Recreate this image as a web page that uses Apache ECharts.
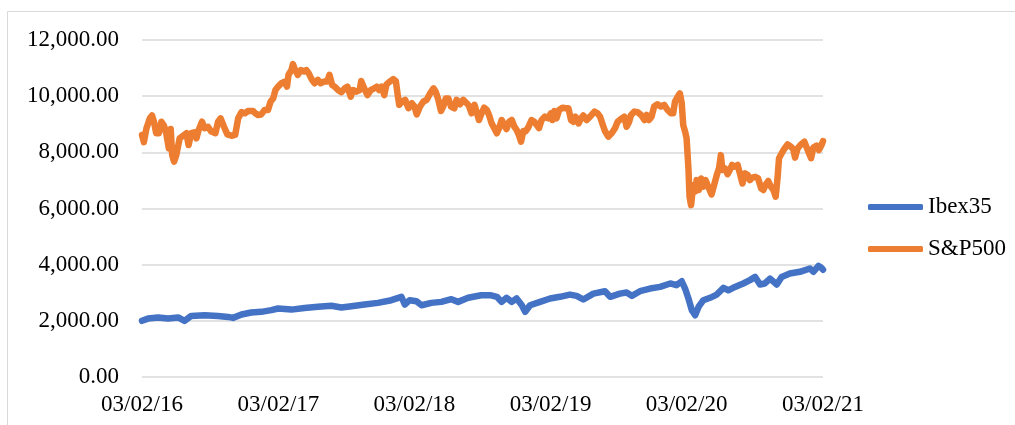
<!DOCTYPE html>
<html>
<head>
<meta charset="utf-8">
<script src="https://cdn.jsdelivr.net/npm/echarts@6/dist/echarts.min.js"></script>
<style>
html,body{margin:0;padding:0;background:#fff;}
#chart{width:1015px;height:425px;}
</style>
</head>
<body>
<div id="chart"></div>
<script>
// ---- DATA ----
const seriesNames = ['Ibex35', 'S&P500'];
const xTickDates = ['2016-02-03','2017-02-03','2018-02-03','2019-02-03','2020-02-03','2021-02-03'];

const ibexDates = [
'2016-02-03','2016-02-19','2016-03-17','2016-04-13','2016-05-10','2016-05-27','2016-06-14','2016-07-20',
'2016-08-25','2016-09-21','2016-10-04','2016-10-27','2016-11-22','2016-12-19','2017-01-15','2017-02-02',
'2017-03-10','2017-04-14','2017-05-20','2017-06-25','2017-07-22','2017-08-18','2017-09-22','2017-10-28',
'2017-12-03','2017-12-30','2018-01-08','2018-01-21','2018-02-08','2018-02-22','2018-03-20','2018-04-16',
'2018-05-13','2018-05-31','2018-06-27','2018-08-01','2018-08-25','2018-09-12','2018-09-25','2018-10-08',
'2018-10-22','2018-11-04','2018-11-18','2018-11-27','2018-12-10','2019-01-06','2019-02-02','2019-02-28',
'2019-03-27','2019-04-14','2019-05-02','2019-05-29','2019-06-29','2019-07-13','2019-08-08','2019-08-26',
'2019-09-09','2019-10-01','2019-10-28','2019-11-24','2019-12-21','2020-01-07','2020-01-21','2020-01-30',
'2020-02-08','2020-02-17','2020-02-26','2020-03-06','2020-03-19','2020-04-06','2020-04-24','2020-05-12',
'2020-05-25','2020-06-07','2020-07-04','2020-07-22','2020-08-05','2020-08-18','2020-08-31','2020-09-14',
'2020-10-02','2020-10-15','2020-11-06','2020-12-03','2020-12-30','2021-01-08','2021-01-22','2021-01-30',
'2021-02-03'
];
const ibexValues = [
2000,2080,2120,2080,2120,2000,2175,2200,
2175,2140,2105,2225,2295,2320,2380,2440,
2400,2460,2500,2535,2475,2520,2580,2640,
2735,2855,2580,2735,2700,2555,2640,2675,
2770,2675,2820,2910,2915,2855,2675,2820,
2675,2795,2555,2320,2555,2675,2795,2855,
2935,2890,2760,2970,3055,2855,2970,3010,
2890,3055,3150,3210,3330,3270,3410,3150,
2795,2380,2200,2495,2735,2820,2935,3175,
3090,3175,3330,3450,3565,3295,3330,3505,
3295,3565,3685,3745,3865,3745,3960,3885,
3820
];

const spDates = [
'2016-02-03','2016-02-08','2016-02-15','2016-02-24','2016-03-01','2016-03-06','2016-03-12','2016-03-19',
'2016-03-26','2016-04-02','2016-04-08','2016-04-15','2016-04-20','2016-04-24','2016-04-29','2016-05-05',
'2016-05-10','2016-05-14','2016-05-23','2016-06-01','2016-06-07','2016-06-14','2016-06-22','2016-06-28',
'2016-07-04','2016-07-13','2016-07-20','2016-07-29','2016-08-07','2016-08-18','2016-08-25','2016-09-01',
'2016-09-10','2016-09-19','2016-09-30','2016-10-10','2016-10-18','2016-10-27','2016-11-05','2016-11-13',
'2016-11-27','2016-12-03','2016-12-10','2016-12-19','2016-12-28','2017-01-06','2017-01-13','2017-01-20',
'2017-01-26','2017-02-02','2017-02-11','2017-02-20','2017-02-26','2017-03-02','2017-03-10','2017-03-14',
'2017-03-20','2017-03-27','2017-04-04','2017-04-13','2017-04-19','2017-04-25','2017-05-04','2017-05-11',
'2017-05-20','2017-05-27','2017-06-05','2017-06-14','2017-06-20','2017-06-27','2017-07-04','2017-07-13',
'2017-07-22','2017-07-31','2017-08-07','2017-08-16','2017-08-22','2017-08-31','2017-09-09','2017-09-13',
'2017-09-21','2017-09-30','2017-10-09','2017-10-18','2017-10-25','2017-10-31','2017-11-07','2017-11-14',
'2017-11-20','2017-11-29','2017-12-08','2017-12-15','2017-12-20','2017-12-24','2018-01-01','2018-01-09',
'2018-01-18','2018-01-27','2018-02-03','2018-02-09','2018-02-18','2018-02-27','2018-03-08','2018-03-17',
'2018-03-26','2018-04-01','2018-04-08','2018-04-15','2018-04-21','2018-04-28','2018-05-05','2018-05-12',
'2018-05-21','2018-05-27','2018-06-05','2018-06-14','2018-06-23','2018-06-29','2018-07-06','2018-07-14',
'2018-07-20','2018-07-26','2018-08-02','2018-08-09','2018-08-16','2018-08-22','2018-08-29','2018-09-05',
'2018-09-12','2018-09-18','2018-09-25','2018-10-02','2018-10-08','2018-10-15','2018-10-22','2018-10-29',
'2018-11-04','2018-11-10','2018-11-16','2018-11-22','2018-11-28','2018-12-05','2018-12-14','2018-12-22',
'2018-12-28','2019-01-03','2019-01-10','2019-01-19','2019-01-28','2019-02-04','2019-02-08','2019-02-13',
'2019-02-19','2019-02-26','2019-03-07','2019-03-16','2019-03-23','2019-03-30','2019-04-05','2019-04-11',
'2019-04-19','2019-04-26','2019-05-02','2019-05-11','2019-05-20','2019-06-01','2019-06-09','2019-06-16',
'2019-06-22','2019-06-29','2019-07-08','2019-07-17','2019-07-26','2019-08-02','2019-08-11','2019-08-20',
'2019-08-26','2019-09-02','2019-09-07','2019-09-16','2019-09-25','2019-10-04','2019-10-13','2019-10-19',
'2019-10-25','2019-11-01','2019-11-08','2019-11-17','2019-11-26','2019-12-05','2019-12-14','2019-12-23',
'2019-12-29','2020-01-03','2020-01-10','2020-01-16','2020-01-21','2020-01-25','2020-01-30','2020-02-03',
'2020-02-08','2020-02-11','2020-02-15','2020-02-18','2020-02-22','2020-02-26','2020-03-01','2020-03-07',
'2020-03-13','2020-03-19','2020-03-25','2020-04-01','2020-04-10','2020-04-17','2020-04-24','2020-04-30',
'2020-05-05','2020-05-09','2020-05-16','2020-05-23','2020-05-29','2020-06-04','2020-06-11','2020-06-19',
'2020-06-25','2020-07-02','2020-07-09','2020-07-16','2020-07-22','2020-07-28','2020-08-05','2020-08-13',
'2020-08-21','2020-08-27','2020-09-02','2020-09-09','2020-09-16','2020-09-23','2020-09-29','2020-10-04',
'2020-10-08','2020-10-15','2020-10-22','2020-10-31','2020-11-09','2020-11-15','2020-11-20','2020-11-27',
'2020-12-06','2020-12-15','2020-12-24','2021-01-02','2021-01-08','2021-01-17','2021-01-23','2021-01-30',
'2021-02-03'
];
const spValues = [
8620,8360,8860,9210,9310,9090,8680,8680,
9090,8950,8680,8140,8830,7900,7670,7900,
7960,8500,8590,8680,8260,8680,8710,8500,
8800,9090,8860,8910,8740,8680,9090,9210,
8910,8640,8590,8620,9210,9430,9390,9470,
9470,9390,9330,9350,9510,9510,9810,9920,
10220,10340,10460,10520,10340,10760,10930,11140,
10930,10760,10930,10880,10930,10820,10580,10460,
10580,10460,10520,10520,10760,10400,10340,10220,
10140,10280,10340,9980,10220,10160,10220,10540,
10280,10040,10220,10280,10340,10220,10340,10040,
10420,10520,10610,10540,10040,9690,9810,9870,
9570,9750,9630,9350,9630,9810,9870,10100,
10280,10160,9870,9470,9630,9920,9920,9630,
9570,9870,9710,9870,9750,9660,9390,9690,
9430,9150,9390,9590,9510,9330,9030,8860,
8680,8860,9150,8970,8830,9090,9150,8910,
8800,8620,8380,8760,8740,8880,9150,9090,
8970,8860,9150,9270,9210,9390,9150,9470,
9210,9510,9590,9570,9570,9150,9090,9270,
9030,9210,9310,9150,9270,9450,9390,9270,
9030,8760,8560,8680,8860,9090,9190,9270,
8910,9090,9330,9450,9430,9330,9150,9330,
9150,9270,9630,9710,9630,9690,9510,9390,
9390,9810,9980,10100,9750,8970,8740,8500,
7430,6420,6120,6480,6840,6600,7010,6660,
7070,6780,7010,6780,6500,6840,7190,7430,
7900,7370,7430,7220,7370,7550,7490,7550,
7250,6890,7250,7190,7010,7100,7130,7070,
6720,6660,6840,6980,6780,6660,6420,7070,
7790,7960,8120,8280,8200,8120,7810,8140,
8280,8380,8080,7790,8170,8240,8080,8260,
8400
];

// ---- HELPERS ----
function toTime(s) {
  const p = s.split('-').map(Number);
  return new Date(p[0], p[1] - 1, p[2]).getTime();
}
function pad(n) { return (n < 10 ? '0' : '') + n; }
function fmtDate(v) {
  const d = new Date(v);
  return pad(d.getDate()) + '/' + pad(d.getMonth() + 1) + '/' + pad(d.getFullYear() % 100);
}
function fmtNum(v) {
  const s = Math.round(v).toString().replace(/\B(?=(\d{3})+(?!\d))/g, ',');
  return s + '.00';
}

const FONT = '"Liberation Serif", "Times New Roman", serif';
const chart = echarts.init(document.getElementById('chart'), null, {renderer: 'canvas'});
const xTicks = xTickDates.map(toTime);

chart.setOption({
  animation: false,
  backgroundColor: '#ffffff',
  graphic: [{
    type: 'rect', silent: true, z: -10,
    shape: {x: 7.5, y: 11.5, width: 1200, height: 600},
    style: {fill: 'none', stroke: '#d9d9d9', lineWidth: 1}
  }],
  grid: {left: 142, right: 192, top: 40, bottom: 48, containLabel: false},
  legend: {
    orient: 'vertical',
    left: 863, top: 189,
    itemWidth: 55, itemHeight: 6,
    itemGap: 16,
    icon: 'roundRect',
    data: seriesNames,
    textStyle: {fontFamily: FONT, fontSize: 23, color: '#000', lineHeight: 26}
  },
  xAxis: {
    type: 'value',
    min: xTicks[0],
    max: xTicks[xTicks.length - 1],
    axisLine: {show: false},
    axisTick: {show: false},
    splitLine: {show: false},
    axisLabel: {
      customValues: xTicks,
      formatter: fmtDate,
      fontFamily: FONT, fontSize: 23, color: '#000',
      margin: 16,
      hideOverlap: false,
      showMinLabel: true, showMaxLabel: true
    }
  },
  yAxis: {
    type: 'value',
    min: 0, max: 12000, interval: 2000,
    axisLine: {show: false},
    axisTick: {show: false},
    splitLine: {show: true, lineStyle: {color: '#d9d9d9', width: 1.5}},
    axisLabel: {
      formatter: fmtNum,
      fontFamily: FONT, fontSize: 23, color: '#000',
      margin: 23
    }
  },
  series: [
    {
      name: seriesNames[0], type: 'line', showSymbol: false,
      color: '#4472C4',
      lineStyle: {width: 6.5, color: '#4472C4', cap: 'round', join: 'round'},
      data: ibexDates.map((d, i) => [toTime(d), ibexValues[i]])
    },
    {
      name: seriesNames[1], type: 'line', showSymbol: false,
      color: '#ED7D31',
      lineStyle: {width: 6.5, color: '#ED7D31', cap: 'round', join: 'round'},
      data: spDates.map((d, i) => [toTime(d), spValues[i]])
    }
  ]
});
</script>
</body>
</html>
